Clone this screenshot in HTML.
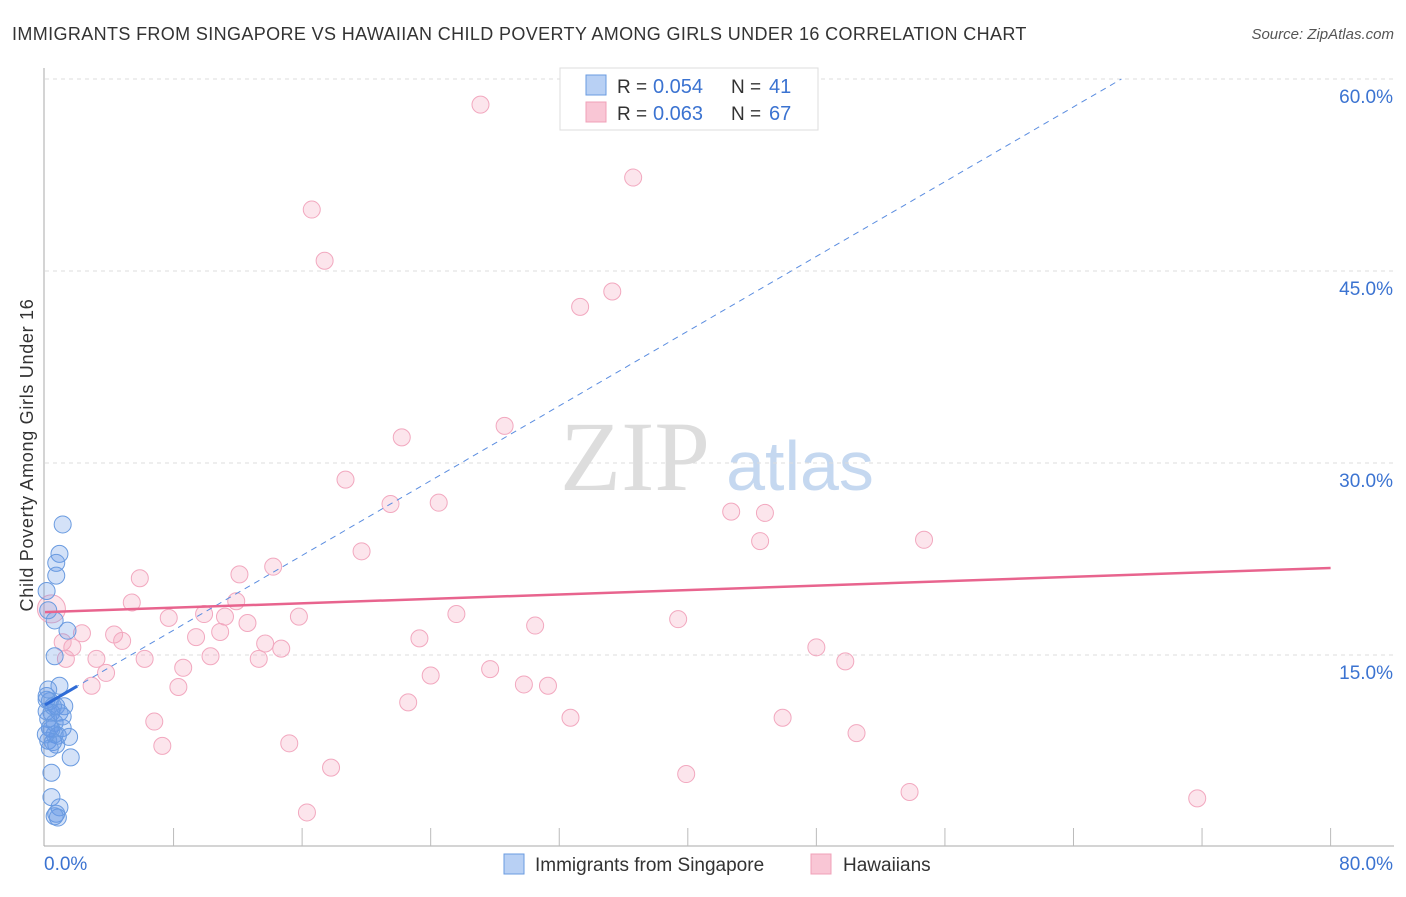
<!DOCTYPE html>
<html><head><meta charset="utf-8"><style>
body{margin:0;background:#fff;font-family:"Liberation Sans",sans-serif}
</style></head><body>
<svg id="c" width="1406" height="892" xmlns="http://www.w3.org/2000/svg">
<text x="12" y="40" font-size="18" fill="#333" letter-spacing="0.37">IMMIGRANTS FROM SINGAPORE VS HAWAIIAN CHILD POVERTY AMONG GIRLS UNDER 16 CORRELATION CHART</text>
<text x="1394" y="39" font-size="15" fill="#555" text-anchor="end" font-style="italic">Source: ZipAtlas.com</text>
<text transform="translate(33,455) rotate(-90)" font-size="18" fill="#333" letter-spacing="0.7" text-anchor="middle">Child Poverty Among Girls Under 16</text>
<g><text x="635" y="490" font-size="100" font-family="Liberation Serif,serif" fill="#ddd" text-anchor="middle">ZIP</text><text x="800" y="490" font-size="70" fill="#c5d8f0" text-anchor="middle">atlas</text></g>
<g id="grid"></g><g id="marks"></g>
<g>
<rect x="560" y="68" width="258" height="62" fill="#fff" stroke="#ddd"/>
<rect x="586" y="75" width="20" height="20" fill="#b8d0f4" stroke="#6a9be0"/>
<rect x="586" y="102" width="20" height="20" fill="#f9c6d5" stroke="#f0a0b8"/>
<text x="617" y="93" font-size="19" fill="#333">R = </text><text x="653" y="93" font-size="20" fill="#3b73d1">0.054</text>
<text x="731" y="93" font-size="19" fill="#333">N = </text><text x="769" y="93" font-size="20" fill="#3b73d1">41</text>
<text x="617" y="120" font-size="19" fill="#333">R = </text><text x="653" y="120" font-size="20" fill="#3b73d1">0.063</text>
<text x="731" y="120" font-size="19" fill="#333">N = </text><text x="769" y="120" font-size="20" fill="#3b73d1">67</text>
</g>
<g>
<rect x="504" y="854" width="20" height="20" fill="#b8d0f4" stroke="#6a9be0"/>
<text x="535" y="871" font-size="19" fill="#333">Immigrants from Singapore</text>
<rect x="811" y="854" width="20" height="20" fill="#f9c6d5" stroke="#f0a0b8"/>
<text x="843" y="871" font-size="19" fill="#333">Hawaiians</text>
</g>
</svg>
<script>
const yTicks=[15,30,45,60];
const xTickLabels=["0.0%","80.0%"];
const pinkX=[27.1,36.6,16.6,17.4,33.3,35.3,22.2,28.6,18.7,21.5,24.5,42.7,44.8,44.5,54.7,19.7,5.9,12.1,14.2,5.4,11.9,7.7,9.9,11.2,12.6,15.8,25.6,30.5,39.4,2.3,4.3,4.8,9.4,10.9,13.7,14.7,23.3,48.0,49.8,1.7,1.3,3.2,6.2,10.3,13.3,8.6,27.7,24.0,3.8,2.9,8.3,29.8,31.3,22.6,6.8,32.7,45.9,50.5,7.3,15.2,17.8,39.9,16.3,53.8,71.7,0.4,1.1];
const pinkY=[58.0,52.3,49.8,45.8,42.2,43.4,32.0,32.9,28.7,26.8,26.9,26.2,26.1,23.9,24.0,23.1,21.0,21.3,21.9,19.1,19.2,17.9,18.2,18.0,17.5,18.0,18.2,17.3,17.8,16.7,16.6,16.1,16.4,16.8,15.9,15.5,16.3,15.6,14.5,15.6,14.7,14.7,14.7,14.9,14.7,14.0,13.9,13.4,13.6,12.6,12.5,12.7,12.6,11.3,9.8,10.1,10.1,8.9,7.9,8.1,6.2,5.7,2.7,4.3,3.8,18.6,16.0];
const blueX=[1.1,0.9,0.7,0.7,0.1,0.2,0.6,1.4,0.6,0.9,0.1,0.3,0.7,1.2,0.1,0.4,0.9,0.2,0.6,1.1,0.3,0.6,0.8,1.5,0.2,0.5,0.7,0.3,1.6,0.4,0.4,0.9,0.7,0.8,0.6,0.1,0.2,0.4,1.1,0.05,0.5];
const blueY=[25.2,22.9,22.2,21.2,20.0,18.5,17.7,16.9,14.9,12.6,11.8,11.4,11.0,11.0,10.6,10.5,10.5,10.0,9.7,9.3,9.3,8.8,8.7,8.6,8.3,8.2,8.0,7.7,7.0,5.8,3.9,3.1,2.6,2.3,2.4,11.5,12.3,9.2,10.2,8.8,11.0];
const pinkTrend=[18.35,21.8];
const blueTrend=[11.1,0.73];
const X=v=>45+v*16.07, Y=v=>847-v*12.8;
const NS="http://www.w3.org/2000/svg";
function mk(p,t,a){const e=document.createElementNS(NS,t);for(const k in a)e.setAttribute(k,a[k]);p.appendChild(e);return e;}
const g=document.getElementById('grid'),m=document.getElementById('marks');
let ax=mk(g,'line',{x1:44,y1:68,x2:44,y2:846,stroke:'#aaa'});


let bx=mk(g,'line',{x1:44,y1:846,x2:1394,y2:846,stroke:'#aaa'});


for(let i=1;i<=10;i++){const t=mk(g,'line',{x1:X(i*8),x2:X(i*8),y1:828,y2:846,stroke:'#bbb'});

}
yTicks.forEach(v=>{const l=mk(g,'line',{x1:45,x2:1394,y1:Y(v),y2:Y(v),stroke:'#ddd','stroke-dasharray':'4 4'});


const t=mk(g,'text',{x:1393,y:Y(v)+24,'font-size':19,fill:'#3b73d1','text-anchor':'end'});t.textContent=v.toFixed(1)+'%';

});
xTickLabels.forEach((s,i)=>{const t=mk(g,'text',{x:i?1393:44,y:870,'font-size':19,fill:'#3b73d1','text-anchor':i?'end':'start'});t.textContent=s;

});
pinkX.forEach((x,i)=>{const c=mk(m,'circle',{cx:X(x),cy:Y(pinkY[i]),r:i==65?14:8.5,fill:'rgba(244,160,185,0.28)',stroke:'#f2a8bf','stroke-width':1});

});
blueX.forEach((x,i)=>{const c=mk(m,'circle',{cx:X(x),cy:Y(blueY[i]),r:8.5,fill:'rgba(100,150,230,0.28)',stroke:'#6a9be0','stroke-width':1});

});
const xe=(60-blueTrend[0])/blueTrend[1];
let bt=mk(m,'line',{x1:X(0),y1:Y(blueTrend[0]),x2:X(xe),y2:Y(blueTrend[0]+blueTrend[1]*xe),stroke:'#5b8de0','stroke-width':1,'stroke-dasharray':'6 5'});


let bs=mk(m,'line',{x1:X(0),y1:Y(blueTrend[0]),x2:X(2),y2:Y(blueTrend[0]+blueTrend[1]*2),stroke:'#2e6bd6','stroke-width':3});


let pt=mk(m,'line',{x1:X(0),y1:Y(pinkTrend[0]),x2:X(80),y2:Y(pinkTrend[1]),stroke:'#e8648e','stroke-width':2.5});


</script>
</body></html>
